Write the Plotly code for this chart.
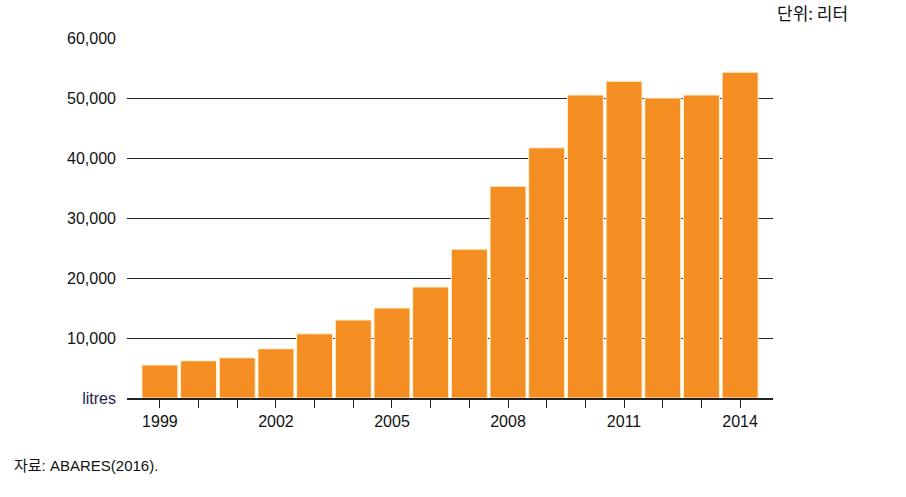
import plotly.graph_objects as go

years = list(range(1999, 2015))
values = [5500, 6200, 6700, 8200, 10700, 13000, 15000, 18500, 24800,
          35300, 41700, 50500, 52800, 50000, 50500, 54300]
y_ticks = [0, 10000, 20000, 30000, 40000, 50000, 60000]
y_ticktext = ["<span style='color:#1f1f4f'>litres</span>", "10,000", "20,000",
              "30,000", "40,000", "50,000", "60,000"]
x_label_years = [1999, 2002, 2005, 2008, 2011, 2014]

PW = 906 - 127 - 133
PH = 497 - 38 - 99

fig = go.Figure()
fig.add_trace(go.Bar(
    x=years, y=values,
    marker=dict(color="#F58E22", line=dict(color="#FFF3D6", width=1)),
    width=0.93,
))

fig.update_layout(
    width=906, height=497,
    margin=dict(l=127, r=133, t=38, b=99),
    paper_bgcolor="white", plot_bgcolor="white",
    showlegend=False,
    font=dict(family="Liberation Sans", size=16, color="#111"),
    xaxis=dict(
        range=[1998.15, 2014.85],
        tickvals=years,
        ticktext=[str(y) if y in x_label_years else "" for y in years],
        ticks="outside", ticklen=8, tickwidth=1.2, tickcolor="#222",
        showgrid=False, showline=True, linecolor="#222", linewidth=1.5,
        tickfont=dict(family="Liberation Sans", size=16, color="#111"),
        fixedrange=True,
    ),
    yaxis=dict(
        range=[0, 60000],
        tickvals=y_ticks, ticktext=y_ticktext,
        showgrid=True, gridcolor="#222", gridwidth=1.3,
        zeroline=False, showline=False,
        ticks="", ticklabelstandoff=10,
        tickfont=dict(family="Liberation Sans", size=16, color="#111"),
        fixedrange=True,
    ),
    annotations=[
        dict(text="단위: 리터", xref="paper", yref="paper",
             x=(850 - 127) / PW, y=1 + (38 - 12) / PH,
             xanchor="right", yanchor="middle", showarrow=False,
             font=dict(family="Noto Sans CJK KR", size=17, color="#111")),
        dict(text="자료: ABARES(2016).", xref="paper", yref="paper",
             x=(12 - 127) / PW, y=-(465 - 398) / PH,
             xanchor="left", yanchor="middle", showarrow=False,
             font=dict(family="Liberation Sans, Noto Sans CJK KR", size=15, color="#111")),
    ],
)

fig.write_html("out.html")
